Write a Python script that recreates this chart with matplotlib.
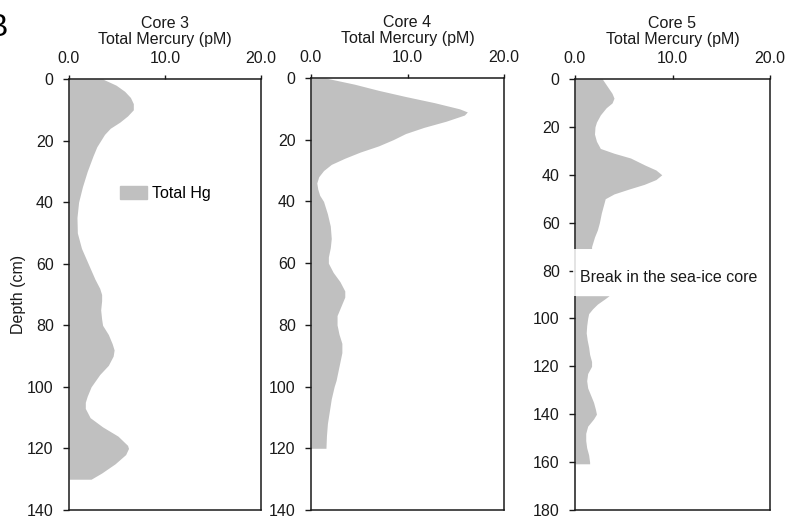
import matplotlib
matplotlib.use("Agg")
import matplotlib.pyplot as plt
from matplotlib.patches import Patch

plt.rcParams['font.family'] = ['Liberation Sans', 'DejaVu Sans']

# ---- data (depth in cm, total mercury in pM) ----
core3_depth = [0, 2, 4, 6, 8, 10, 12, 14, 16, 18, 20, 22, 25, 30, 35, 40, 45, 50,
               55, 60, 65, 68, 70, 72, 75, 78, 80, 83, 86, 88, 90, 93, 96, 100,
               103, 105, 107, 110, 113, 116, 119, 120, 122, 125, 128, 130]
core3_hg = [3.5, 4.9, 5.8, 6.4, 6.7, 6.7, 6.1, 5.3, 4.3, 3.7, 3.3, 2.9, 2.5, 1.9,
            1.4, 1.0, 0.83, 0.87, 1.3, 2.0, 2.7, 3.2, 3.4, 3.4, 3.3, 3.4, 3.5, 4.1,
            4.5, 4.7, 4.6, 4.1, 3.2, 2.3, 1.9, 1.7, 1.7, 2.2, 3.5, 5.1, 6.1, 6.2,
            5.9, 4.8, 3.4, 2.3]

core4_depth = [0, 2, 4, 6, 8, 10, 11, 12, 14, 16, 18, 20, 22, 24, 26, 28, 30, 32,
               34, 36, 38, 40, 44, 48, 52, 55, 58, 60, 63, 66, 69, 71, 74, 77, 80,
               83, 86, 89, 92, 95, 98, 100, 104, 108, 112, 116, 120]
core4_hg = [1.5, 4.5, 7.0, 9.8, 12.8, 15.4, 16.2, 15.9, 14.0, 11.7, 9.8, 8.5, 7.0,
            5.1, 3.5, 2.1, 1.3, 0.8, 0.6, 0.7, 0.9, 1.3, 1.7, 2.0, 2.1, 2.0, 1.8,
            1.8, 2.3, 3.0, 3.5, 3.5, 3.1, 2.7, 2.7, 2.9, 3.2, 3.2, 3.0, 2.8, 2.6,
            2.4, 2.1, 1.9, 1.7, 1.6, 1.55]

core5_upper_depth = [0, 3, 6, 8, 10, 12, 15, 18, 20, 23, 26, 29, 31, 33, 36, 38,
                     40, 42, 44, 46, 48, 50, 53, 56, 60, 63, 66, 70, 70.8]
core5_upper_hg = [2.8, 3.3, 3.8, 4.0, 3.8, 3.2, 2.6, 2.2, 2.05, 2.0, 2.2, 2.6, 4.0,
                  5.7, 7.2, 8.3, 8.9, 8.3, 7.1, 5.5, 4.0, 3.1, 2.9, 2.7, 2.5, 2.3,
                  2.0, 1.7, 1.7]
core5_lower_depth = [90.5, 92, 94, 96, 98, 100, 103, 106, 109, 112, 115, 118, 120,
                     123, 126, 129, 132, 135, 138, 140, 142, 145, 148, 151, 154,
                     157, 160, 160.7]
core5_lower_hg = [3.5, 3.0, 2.3, 1.8, 1.4, 1.3, 1.2, 1.15, 1.25, 1.4, 1.5, 1.7,
                  1.7, 1.3, 1.2, 1.3, 1.6, 1.9, 2.1, 2.2, 1.9, 1.3, 1.1, 1.1, 1.2,
                  1.4, 1.5, 1.5]

x_ticks = [0, 10, 20]
x_tick_labels = ["0.0", "10.0", "20.0"]
core_titles = ["Core 3\nTotal Mercury (pM)", "Core 4\nTotal Mercury (pM)",
               "Core 5\nTotal Mercury (pM)"]
break_label = "Break in the sea-ice core"

FILL = "#c0c0c0"
INK = "#1a1a1a"
FS = 11.5

fig = plt.figure(figsize=(7.87, 5.21), dpi=100)
W, H = 787, 521

def make_ax(left, right, top, bottom):
    return fig.add_axes([left / W, 1 - bottom / H, (right - left) / W, (bottom - top) / H])

ax1 = make_ax(69, 261, 79, 510)
ax2 = make_ax(311, 504, 78, 510)
ax3 = make_ax(575, 770, 79, 510)

ylims = [(140, 0), (140, 0), (180, 0)]
yticks = [range(0, 141, 20), range(0, 141, 20), range(0, 181, 20)]

for ax, title, yl, yt in zip([ax1, ax2, ax3], core_titles, ylims, yticks):
    ax.set_xlim(0, 20)
    ax.set_ylim(*yl)
    ax.set_yticks(list(yt))
    ax.set_xticks(x_ticks)
    ax.set_xticklabels(x_tick_labels)
    ax.xaxis.tick_top()
    ax.tick_params(axis='x', direction='out', length=3, width=1.0, colors=INK,
                   labelsize=FS, pad=6.5)
    ax.tick_params(axis='y', direction='out', length=4, width=1.0, colors=INK,
                   labelsize=FS, pad=7)
    for s in ax.spines.values():
        s.set_color(INK)
        s.set_linewidth(1.1)
    ax.set_title(title, fontsize=FS, color=INK, pad=25, linespacing=1.1)

ax1.fill_betweenx(core3_depth, 0, core3_hg, color=FILL, lw=0)
ax2.fill_betweenx(core4_depth, 0, core4_hg, color=FILL, lw=0)
ax3.fill_betweenx(core5_upper_depth, 0, core5_upper_hg, color=FILL, lw=0)
ax3.fill_betweenx(core5_lower_depth, 0, core5_lower_hg, color=FILL, lw=0)

ax1.set_ylabel("Depth (cm)", fontsize=FS, color=INK, labelpad=1)

ax1.legend(handles=[Patch(color=FILL, label="Total Hg")], loc="center left",
           bbox_to_anchor=(0.266, 0.734), frameon=False, fontsize=FS,
           handlelength=1.7, handleheight=0.8, handletextpad=0.3,
           borderaxespad=0, borderpad=0)

# the break in core 5: white band partly veiling the left spine
ax3.axhspan(core5_upper_depth[-1], core5_lower_depth[0], xmin=-0.01, xmax=0.97,
            facecolor="white", edgecolor="none", alpha=0.85, zorder=3,
            clip_on=False)
ax3.text(0.5, 83, break_label, fontsize=FS, color=INK, va="center", ha="left",
         zorder=5)

fig.text(8 / W, 1 - 28.5 / H, "B", fontsize=23, ha="right", va="center",
         color="black")

fig.savefig("out.png", dpi=100)
